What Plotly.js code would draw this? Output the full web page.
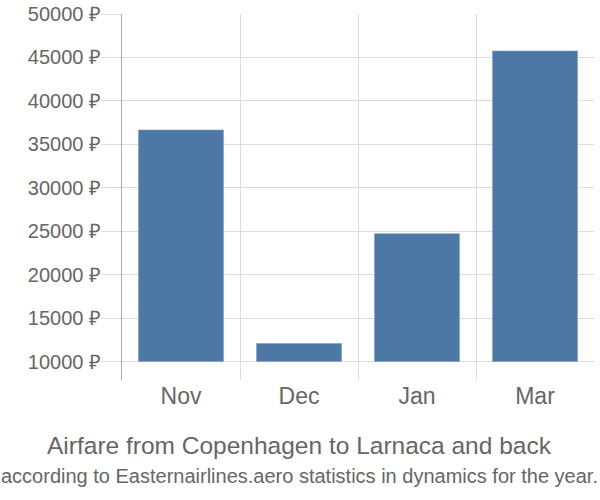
<!DOCTYPE html>
<html>
<head>
<meta charset="utf-8">
<script src="https://cdn.plot.ly/plotly-3.0.1.min.js"></script>
<style>html,body{margin:0;padding:0;background:#fff}#chart{width:600px;height:500px}</style>
</head>
<body>
<div id="chart"></div>
<script>
const months = ["Nov", "Dec", "Jan", "Mar"];
const prices = [36650, 12070, 24720, 45740];
const baseValue = 10000;
const yTickSuffix = " ₽";
const titleText = "Airfare from Copenhagen to Larnaca and back";
const subtitleText = "according to Easternairlines.aero statistics in dynamics for the year.";

const trace = {
  type: "bar",
  x: months,
  y: prices.map(v => v - baseValue),
  base: baseValue,
  marker: {color: "#4d78a6", line: {color: "#7d9cc4", width: 0.6}},
  width: 0.72,
  hoverinfo: "skip"
};

const layout = {
  width: 600, height: 500,
  margin: {l: 122, r: 6, t: 14, b: 120},
  paper_bgcolor: "#fff", plot_bgcolor: "#fff",
  showlegend: false,
  font: {family: "'Liberation Sans', Arial, sans-serif", color: "#666"},
  xaxis: {
    type: "category",
    tickson: "boundaries",
    showgrid: true, gridcolor: "#dcdcdc", gridwidth: 1,
    ticks: "", ticklen: 0,
    showline: false, zeroline: false,
    tickfont: {size: 23, color: "#666"},
    range: [-0.5, 3.5]
  },
  yaxis: {
    range: [7872, 50000],
    tick0: 0, dtick: 5000,
    ticksuffix: yTickSuffix,
    tickformat: "d",
    showgrid: true, gridcolor: "#dcdcdc", gridwidth: 1,
    ticks: "outside", ticklen: 20, tickcolor: "#dcdcdc", tickwidth: 1,
    ticklabelstandoff: -4,
    showline: true, linecolor: "#aaa", linewidth: 1,
    zeroline: false,
    tickfont: {size: 20, color: "#666"},
    fixedrange: true
  },
  annotations: [
    {text: titleText, xref: "paper", yref: "paper", x: 0.377, xanchor: "center",
     y: -0.18, yanchor: "middle", showarrow: false,
     font: {size: 24.5, color: "#666"}},
    {text: subtitleText, xref: "paper", yref: "paper", x: 0.377, xanchor: "center",
     y: -0.262, yanchor: "middle", showarrow: false,
     font: {size: 20, color: "#666"}}
  ]
};

Plotly.newPlot("chart", [trace], layout, {displayModeBar: false, staticPlot: true});
</script>
</body>
</html>
